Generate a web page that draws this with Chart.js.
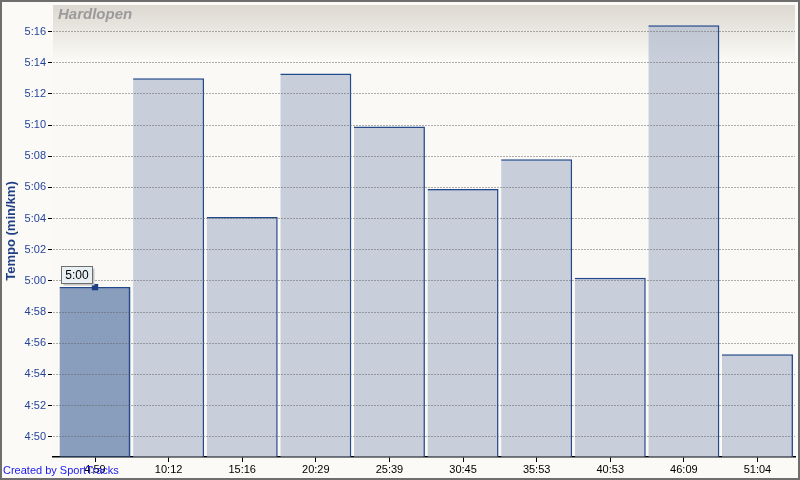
<!DOCTYPE html>
<html>
<head>
<meta charset="utf-8">
<script src="https://cdn.jsdelivr.net/npm/chart.js@4.4.1/dist/chart.umd.min.js"></script>
<style>
    html, body { margin: 0; padding: 0; background: #fbfaf6; }
    #wrap { position: relative; width: 800px; height: 480px; }
    #chart { position: absolute; left: 0; top: 0; }
    #frame { position: absolute; left: 0; top: 0; width: 800px; height: 480px; box-sizing: border-box;
             border: 2px solid #6e6e6e; pointer-events: none; }
    #title { position: absolute; left: 58px; top: 5px; font: italic bold 15px "Liberation Sans", Arial, sans-serif;
             color: #9b9b9b; }
    #credit { position: absolute; left: 3px; top: 464px; font: 11px "Liberation Sans", Arial, sans-serif;
              color: #1a1af0; }
</style>
</head>
<body>
<div id="wrap">
    <canvas id="chart" width="800" height="480"></canvas>
    <div id="title">Hardlopen</div>
    <div id="credit">Created by SportTracks</div>
    <div id="frame"></div>
</div>
<script>
// elapsed time at each split (x labels)
const splitLabels = ['4:59', '10:12', '15:16', '20:29', '25:39', '30:45', '35:53', '40:53', '46:09', '51:04'];
// pace per km, in seconds
const paceSeconds = [299.6, 313.0, 304.1, 313.3, 309.9, 305.9, 307.8, 300.2, 316.4, 295.3];
const selectedIndex = 0;
const selectedLabel = '5:00';
const yMin = 288.7;
const yMax = 317.7;
const yStep = 2;

function fmtPace(sec) {
    const m = Math.floor(sec / 60);
    const s = Math.round(sec - m * 60);
    return m + ':' + String(s).padStart(2, '0');
}

const barFill = paceSeconds.map((v, i) => i === selectedIndex ? 'rgba(60, 97, 150, 0.6)' : 'rgba(167, 178, 201, 0.6)');
const barBorder = paceSeconds.map((v, i) => i === selectedIndex
    ? { top: 1.5, right: 2, left: 0, bottom: 0 }
    : { top: 1.5, right: 1.5, left: 0, bottom: 0 });

// plot background gradient
const plotBg = {
    id: 'plotBg',
    beforeDraw(chart) {
        const { ctx, chartArea: a } = chart;
        const g = ctx.createLinearGradient(0, a.top, 0, a.top + 55);
        g.addColorStop(0, '#dcd8d1');
        g.addColorStop(1, '#faf9f5');
        ctx.save();
        ctx.fillStyle = g;
        ctx.fillRect(a.left, a.top, a.right - a.left, a.bottom - a.top);
        ctx.restore();
    }
};

// little value box above the selected bar
const valueBox = {
    id: 'valueBox',
    afterDraw(chart) {
        const pt = chart.getDatasetMeta(1).data[0];
        if (!pt) return;
        const ctx = chart.ctx;
        const w = 31, h = 17;
        const x = Math.round(pt.x - 34) + 0.5;
        const y = Math.round(pt.y - 4 - h) + 0.5;
        ctx.save();
        ctx.fillStyle = '#c4c4c4';
        ctx.fillRect(x + 2, y + 2, w, h);
        ctx.fillStyle = '#e9f0f4';
        ctx.fillRect(x, y, w, h);
        ctx.strokeStyle = '#6f6f6f';
        ctx.lineWidth = 1;
        ctx.strokeRect(x, y, w, h);
        ctx.fillStyle = '#000';
        ctx.font = '12px "Liberation Sans", Arial, sans-serif';
        ctx.textAlign = 'center';
        ctx.textBaseline = 'middle';
        ctx.fillText(selectedLabel, x + w / 2, y + h / 2 + 1);
        ctx.restore();
    }
};

new Chart(document.getElementById('chart'), {
    type: 'bar',
    data: {
        datasets: [
            {
                type: 'bar',
                order: 1,
                data: paceSeconds.map((v, i) => ({ x: i, y: v })),
                backgroundColor: barFill,
                borderColor: '#23498c',
                borderWidth: barBorder,
                borderSkipped: false,
                barPercentage: 0.965,
                categoryPercentage: 1
            },
            {
                type: 'scatter',
                order: 0,
                data: [{ x: selectedIndex, y: paceSeconds[selectedIndex] }],
                pointStyle: 'rect',
                pointRadius: 4.5,
                backgroundColor: '#1f3f84',
                borderWidth: 0
            }
        ]
    },
    options: {
        responsive: false,
        animation: false,
        devicePixelRatio: 1,
        layout: { padding: { top: 5, right: 5, bottom: 2, left: 2 } },
        plugins: {
            legend: { display: false },
            tooltip: { enabled: false }
        },
        scales: {
            x: {
                type: 'linear',
                min: -0.5706,
                max: 9.51,
                offset: false,
                afterFit(scale) { scale.height = 21; },
                ticks: {
                    stepSize: 1,
                    includeBounds: false,
                    autoSkip: false,
                    maxRotation: 0,
                    padding: 1,
                    color: '#000',
                    font: { family: '"Liberation Sans", Arial, sans-serif', size: 11 },
                    callback: v => splitLabels[v] ?? ''
                },
                grid: { offset: false, drawOnChartArea: false, tickLength: 5, tickColor: '#000', tickWidth: 1 },
                border: { color: '#000', width: 1.5 }
            },
            y: {
                min: yMin,
                max: yMax,
                afterFit(scale) {
                    scale.width = 51;
                    scale.paddingTop = 0;
                    scale.paddingBottom = 0;
                },
                ticks: {
                    stepSize: yStep,
                    includeBounds: false,
                    padding: 2,
                    color: '#24449a',
                    font: { family: '"Liberation Sans", Arial, sans-serif', size: 11 },
                    callback: v => fmtPace(v)
                },
                grid: {
                    z: 1,
                    color: '#606060',
                    tickBorderDash: [],
                    tickColor: '#000',
                    tickLength: 5,
                    lineWidth: 1
                },
                border: { color: '#000', width: 1.5, dash: [1, 2] },
                title: {
                    display: true,
                    text: 'Tempo (min/km)',
                    color: '#1f3f84',
                    padding: { top: 2, bottom: 0 },
                    font: { family: '"Liberation Sans", Arial, sans-serif', size: 13, weight: 'bold' }
                }
            }
        }
    },
    plugins: [plotBg, valueBox]
});
</script>
</body>
</html>
